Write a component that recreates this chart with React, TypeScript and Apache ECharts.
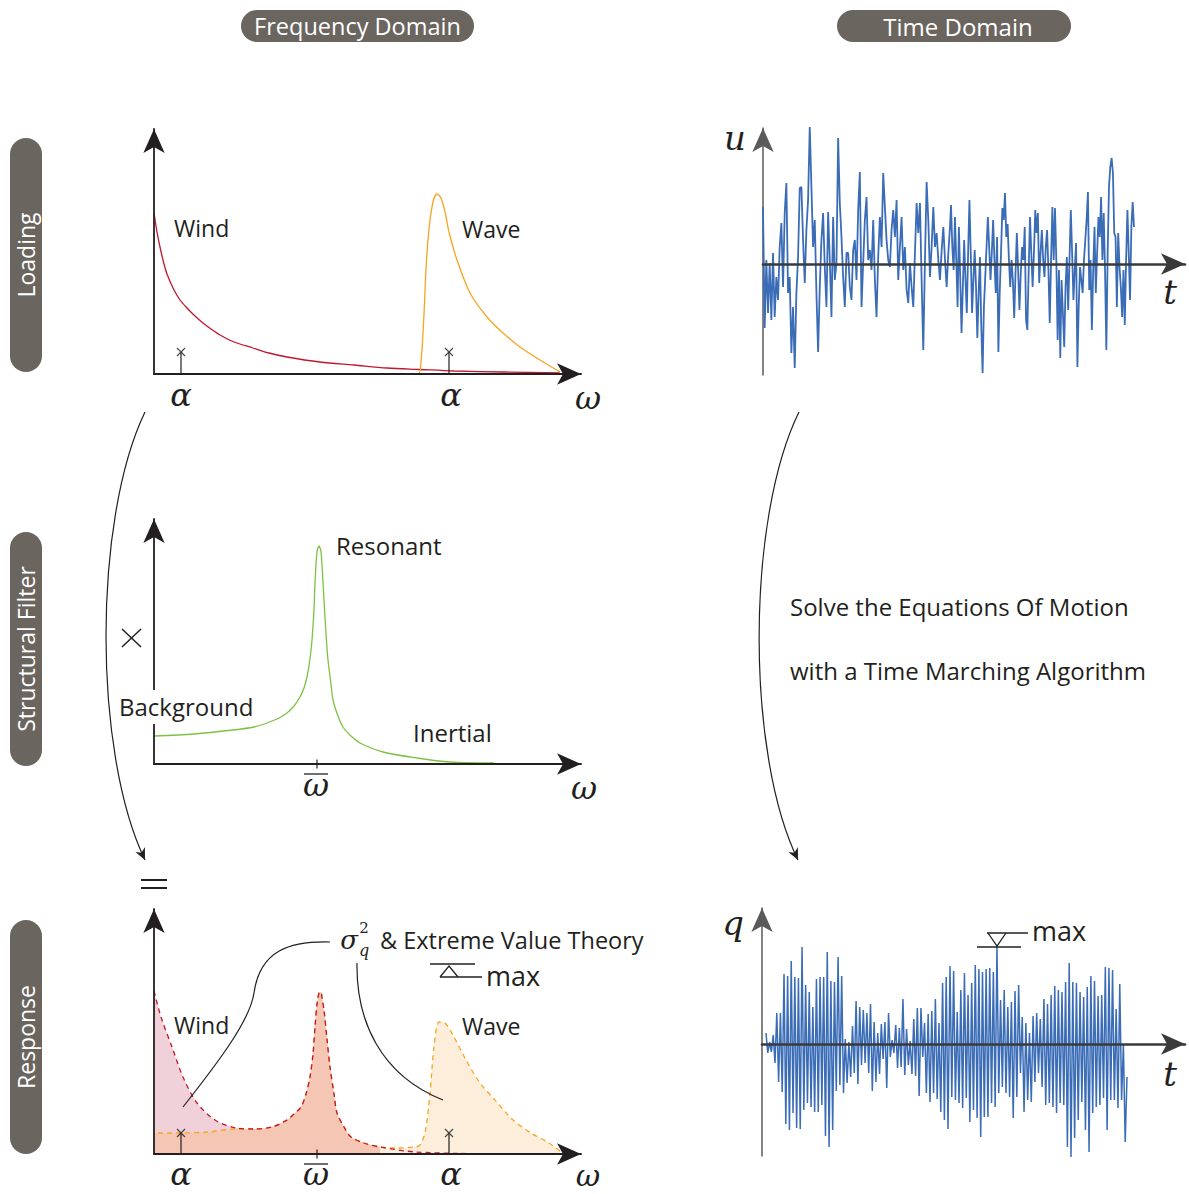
import React, { useEffect, useRef } from "react";
import * as echarts from "echarts";

// ---------- Frequency-domain curves ([omega, spectral density], arbitrary units) ----------
const windLoading: number[][] = [
  [0.0, 1.61], [0.03, 1.42], [0.06, 1.27], [0.1, 1.1], [0.13, 1.0], [0.19, 0.86], [0.26, 0.74],
  [0.33, 0.66], [0.41, 0.58], [0.49, 0.51], [0.57, 0.45], [0.66, 0.39], [0.8, 0.32], [0.99, 0.26],
  [1.15, 0.21], [1.33, 0.17], [1.66, 0.12], [2.0, 0.09], [2.33, 0.06], [2.66, 0.045], [3.0, 0.03],
  [3.5, 0.02], [4.06, 0.01],
];
const waveLoading: number[][] = [
  [2.16, 0.0], [2.64, 0.0], [2.67, 0.12], [2.7, 0.6], [2.72, 1.05], [2.75, 1.45], [2.79, 1.72],
  [2.83, 1.8], [2.87, 1.76], [2.91, 1.62], [2.95, 1.42], [3.03, 1.14], [3.16, 0.81], [3.33, 0.57],
  [3.49, 0.41], [3.66, 0.27], [3.86, 0.14], [4.06, 0.02],
];
const structuralFilter: number[][] = [
  [0, 0.28], [0.4, 0.3], [0.79, 0.34], [1.0, 0.37], [1.13, 0.41], [1.25, 0.46], [1.33, 0.51],
  [1.4, 0.58], [1.46, 0.67], [1.5, 0.76], [1.53, 0.87], [1.56, 1.05], [1.58, 1.24], [1.6, 1.55],
  [1.61, 1.81], [1.63, 2.12], [1.65, 2.18], [1.67, 2.12], [1.69, 1.82], [1.7, 1.64], [1.72, 1.3],
  [1.74, 1.04], [1.77, 0.8], [1.79, 0.64], [1.84, 0.48], [1.89, 0.37], [1.97, 0.28], [2.06, 0.21],
  [2.29, 0.12], [2.63, 0.06], [2.96, 0.02], [3.4, 0.01],
];
const responseWindHead: number[][] = [
  [0, 1.63], [0.07, 1.37], [0.18, 1.07], [0.29, 0.77], [0.43, 0.51], [0.61, 0.34], [0.82, 0.26],
];
const responseBackground: number[][] = [
  [0, 0.21], [0.27, 0.21], [0.54, 0.22], [0.82, 0.25],
];
const responseResonant: number[][] = [
  [1.0, 0.25], [1.18, 0.27], [1.33, 0.34], [1.4, 0.4], [1.47, 0.47], [1.52, 0.6], [1.56, 0.77],
  [1.59, 1.0], [1.61, 1.27], [1.63, 1.5], [1.65, 1.61], [1.67, 1.62], [1.68, 1.56], [1.7, 1.44],
  [1.73, 1.15], [1.76, 0.87], [1.8, 0.6], [1.83, 0.41], [1.9, 0.27], [1.97, 0.17], [2.1, 0.11],
  [2.26, 0.07],
];
const responseWindTail: number[][] = [[2.62, 0.02], [3.41, 0.0]];
const responseWave: number[][] = [
  [2.45, 0.06], [2.6, 0.07], [2.65, 0.08], [2.71, 0.21], [2.76, 0.61], [2.8, 1.07], [2.85, 1.32],
  [2.91, 1.31], [3.0, 1.17], [3.12, 0.94], [3.26, 0.71], [3.41, 0.54], [3.59, 0.34], [3.77, 0.21],
  [3.95, 0.11], [4.07, 0.02],
];
const alphaPositions = [0.27, 2.95];
const omegaBar = 1.63;
const loadTickHeight = 0.22;
const responseTickHeight = 0.21;

// ---------- Time-domain signals (sampled values) ----------
const uSegA = [
  0.57, -0.64, 0.04, -0.49, 0.01, -0.56, 0.11, -0.53, -0.13, -0.36,
  0.17, 0.41, -0.23, 0.51, 0.81, -0.29, -0.13, -0.89, -0.43, -1.04,
  -0.29, 0.07, 0.76, 0.77, 0.24, -0.19, 0.34, 0.64, 1.37, 0.77,
  0.17, 0.44, -0.29, -0.88, -0.23, 0.24, 0.51, -0.03, -0.43, 0.52,
  0.04, -0.53, 0.47, -0.16, 0.01, 1.26, 0.61, 0.27, -0.13, -0.43,
  0.11, 0.11, -0.23, -0.36, 0.14, 0.24, -0.16, 0.54, 0.92, -0.43,
  0.01, 0.44, 0.67, 0.04, 0.14, -0.06, 0.44, -0.16, -0.53, 0.07,
  0.47, 0.17, 0.91, 0.57, 0.24, 0.04, -0.03, 0.34, 0.54, 0.27,
  0.64, -0.16, 0.17, 0.47, -0.06, 0.17, -0.26, -0.39, 0.01, -0.23,
  -0.43, 0.11, 0.61, 0.31, 0.61, -0.16, -0.86, 0.04, 0.82, 0.44,
  -0.13, 0.17, 0.57, 0.17, 0.31, 0.04, -0.16, 0.14, 0.37, 0.04,
  -0.23, 0.11, 0.37,
];
const uSegB = [
  0.59, 0.17, -0.06, 0.47, 0.04, -0.43, 0.37, -0.13, -0.69, -0.23,
  0.24, -0.16, -0.49, 0.11, 0.64, 0.11, -0.49, -0.16, 0.14, -0.23,
  -0.74, -0.29, 0.07, -0.63, -1.09, -0.43, -0.13, 0.17, 0.47, 0.17,
  -0.16, 0.11, 0.44, 0.04, -0.29, 0.27, -0.88, -0.29, 0.11, 0.56,
  0.44, 0.71, 0.27, 0.4, 0.04, -0.23, 0.04, -0.16, -0.54, -0.09,
  0.31, -0.06, -0.46, -0.09, 0.17, 0.04, 0.37, -0.56, -0.66, -0.06,
  0.47, 0.11, -0.23, 0.11, 0.54, 0.31, 0.51, -0.19, 0.11, 0.34,
  0.04, -0.13, 0.17, 0.34, -0.06, -0.59, 0.04, 0.57, 0.04, 0.56,
  0.04, -0.76, -0.06, -0.94, -0.16, -0.49, -0.83, -0.23, 0.07, -0.46,
  0.04, 0.54, 0.11, -0.36, -0.06, 0.21, -1.03, -0.43, -0.03, -0.16,
  -0.29, 0.04, 0.24, 0.44, 0.72, -0.26, 0.04, -0.66, -0.06, 0.37,
  -0.29, 0.11, 0.47, 0.27, 0.67, 0.04, 0.51, -0.06, -0.86, 0.11,
  0.77, 0.97, 1.06, 0.91, 0.31, 0.27, -0.43, 0.31, -0.03, -0.23,
  -0.53, -0.06, -0.61, 0.04, 0.54, 0.11, -0.36, 0.37, 0.62, 0.37,
];
const uSegTimes = [[0.0, 1.87], [1.88, 3.71]];

const qSegA = [
  0.11, -0.09, 0.02, -0.08, 0.09, -0.19, 0.31, -0.38, 0.31, -0.48,
  0.7, -0.8, 0.68, -0.86, 0.83, -0.69, 0.67, -0.84, 0.66, -0.85,
  0.97, -0.66, 0.59, -0.59, 0.52, -0.63, 0.37, -0.68, 0.65, -0.68,
  0.67, -0.61, 0.67, -0.92, 0.92, -1.03, 0.63, -0.86, 0.62, -0.47,
  0.87, -0.41, 0.68, -0.49, 0.05, -0.39, 0.02, -0.33, 0.18, -0.29,
  0.43, -0.4, 0.37, -0.21, 0.34, -0.19, 0.31, -0.29, 0.4, -0.47,
  0.22, -0.38, 0.11, -0.3, 0.2, -0.15, 0.22, -0.44, 0.31, -0.13,
  0.04, -0.09, 0.19, -0.24, 0.16, -0.23, 0.45, -0.31, 0.15, -0.21,
  0.03, -0.3, 0.25, -0.32, 0.36, -0.52, 0.36, -0.13, 0.21, -0.49,
  0.3, -0.58, 0.33, -0.49, 0.45, -0.55, 0.21, -0.68, 0.61, -0.76,
  0.67, -0.85,
];
const qSegB = [
  0.78, -0.53, 0.73, -0.56, 0.32, -0.59, 0.54, -0.64, 0.71, -0.54,
  0.49, -0.78, 0.61, -0.66, 0.79, -0.74, 0.75, -0.93, 0.72, -0.73,
  0.75, -0.73, 0.76, -0.59, 0.72, -0.63, 0.97, -0.49, 0.44, -0.43,
  0.54, -0.49, 0.37, -0.53, 0.42, -0.74, 0.53, -0.53, 0.59, -0.29,
  0.27, -0.68, 0.21, -0.56, 0.11, -0.58, 0.28, -0.38, 0.31, -0.29,
  0.25, -0.43, 0.45, -0.61, 0.4, -0.59, 0.49, -0.63, 0.58, -0.69,
  0.54, -0.59, 0.52, -0.61, 0.62, -1.03, 0.81, -1.13, 0.62, -0.94,
  0.61, -0.76, 0.52, -0.58, 0.47, -0.86, 0.57, -1.08, 0.68, -0.69,
  0.63, -0.63, 0.48, -0.61, 0.49, -0.54, 0.77, -0.86, 0.76, -0.56,
  0.74, -0.56, 0.35, -0.64, 0.6, -0.56, 0.0, -0.98, -0.33,
];
const qSegTimes = [[0.04, 1.86], [1.88, 3.65]];

// ---------- styling ----------
const INK = "#231f20";
const RED = "#c1172c";
const ORANGE = "#f8a420";
const GREEN = "#7dc242";
const BLUE = "#3b6db7";
const PILL = "#6b6560";
const SANS = "'Open Sans', 'Noto Sans', sans-serif";
const MATH = "'DejaVu Serif', serif";

function sampled(segs: number[][], times: number[][]) {
  const out: number[][] = [];
  segs.forEach((vals, s) => {
    const [t0, t1] = times[s];
    const dt = (t1 - t0) / (vals.length - 1);
    vals.forEach((v, i) => out.push([t0 + i * dt, v]));
  });
  return out;
}

function axis(gridIndex: number, min: number, max: number, color: string, width: number, z = 5) {
  return {
    type: "value", gridIndex, min, max, z,
    axisLine: { show: true, onZero: true, symbol: ["none", "arrow"], symbolSize: [16, 24], lineStyle: { color, width } },
    axisTick: { show: false }, axisLabel: { show: false }, splitLine: { show: false },
  };
}

function line(gi: number, data: number[][], color: string, extra: any = {}) {
  return {
    type: "line", xAxisIndex: gi, yAxisIndex: gi, data, showSymbol: false, symbol: "none",
    smooth: 0.3, clip: false, silent: true,
    lineStyle: { color, width: 1.3 }, ...extra,
  };
}

function alphaTicks(gi: number, h: number) {
  const out: any[] = [];
  alphaPositions.forEach((a) => {
    out.push({ type: "line", xAxisIndex: gi, yAxisIndex: gi, data: [[a, 0], [a, h]], showSymbol: false, symbol: "none", clip: false, silent: true, lineStyle: { color: INK, width: 1.2 }, z: 6 });
    out.push({
      type: "scatter", xAxisIndex: gi, yAxisIndex: gi, data: [[a, h]], symbol: "path://M0,0L10,10M10,0L0,10", symbolSize: 8, silent: true, z: 6,
      itemStyle: { color: "transparent", borderColor: INK, borderWidth: 1.2 },
    });
  });
  return out;
}

function omegaBarTick(gi: number) {
  return { type: "line", xAxisIndex: gi, yAxisIndex: gi, data: [[omegaBar, -0.045], [omegaBar, 0.045]], showSymbol: false, symbol: "none", clip: false, silent: true, lineStyle: { color: INK, width: 1.2 }, z: 6 };
}

const txt = (text: string, x: number, y: number, size: number, align = "left", font = SANS, fill = INK, italic = false, extra: any = {}) => ({
  type: "text", x, y, silent: true, z: 20, ...extra,
  style: {
    text, fill, font: `${italic ? "italic " : ""}${size}px ${font}`,
    align, verticalAlign: "middle", textAlign: align, textVerticalAlign: "middle",
  },
});
const seg = (x1: number, y1: number, x2: number, y2: number, w = 1.3) => ({
  type: "line", silent: true, z: 20, shape: { x1, y1, x2, y2 }, style: { stroke: INK, lineWidth: w },
});
const pill = (x: number, y: number, w: number, h: number) => ({
  type: "rect", silent: true, z: 10, shape: { x, y, width: w, height: h, r: 16 }, style: { fill: PILL },
});
const curve = (x1: number, y1: number, cpx1: number, cpy1: number, cpx2: number, cpy2: number, x2: number, y2: number) => ({
  type: "bezierCurve", silent: true, z: 20, shape: { x1, y1, cpx1, cpy1, cpx2, cpy2, x2, y2 }, style: { stroke: INK, lineWidth: 1.2, fill: "none" },
});
const arrowHead = (pts: number[][]) => ({ type: "polygon", silent: true, z: 20, shape: { points: pts }, style: { fill: INK } });

export default function App() {
  const ref = useRef<HTMLDivElement>(null);
  useEffect(() => {
    document.body.style.margin = "0";
    const chart = echarts.init(ref.current!, null, { renderer: "svg" });

    const redTotal = responseWindHead.concat(responseResonant, responseWindTail);
    const orangeTotal = responseBackground.concat(responseResonant, responseWave);
    const salmonArea = responseBackground.concat(responseResonant);
    const peachArea = [responseResonant[responseResonant.length - 1]].concat(responseWave);

    const FX = 4.27, FY = 2.45;
    const option: any = {
      animation: false,
      grid: [
        { left: 154, top: 129, width: 427, height: 245 },
        { left: 154, top: 519, width: 427, height: 245 },
        { left: 154, top: 909, width: 427, height: 245 },
        { left: 763, top: 128, width: 422, height: 247 },
        { left: 762, top: 908, width: 423, height: 248 },
      ],
      xAxis: [
        axis(0, 0, FX, INK, 1.8), axis(1, 0, FX, INK, 1.8), axis(2, 0, FX, INK, 1.8),
        axis(3, 0, 4.22, "#3a3a3a", 2.6), axis(4, 0, 4.23, "#3a3a3a", 2.6),
      ],
      yAxis: [
        axis(0, 0, FY, INK, 1.8), axis(1, 0, FY, INK, 1.8), axis(2, 0, FY, INK, 1.8),
        axis(3, -1.11, 1.36, "#5a5a5a", 1.5, 1), axis(4, -1.12, 1.36, "#5a5a5a", 1.5, 1),
      ],
      series: [
        // Loading
        line(0, windLoading, RED),
        line(0, waveLoading, ORANGE),
        ...alphaTicks(0, loadTickHeight),
        // Structural filter
        line(1, structuralFilter, GREEN),
        omegaBarTick(1),
        // Response: fills
        line(2, redTotal, RED, { lineStyle: { width: 0, opacity: 0 }, areaStyle: { color: "#f0d1d9", opacity: 1 } }),
        line(2, salmonArea, ORANGE, { lineStyle: { width: 0, opacity: 0 }, areaStyle: { color: "#f4c6b3", opacity: 1 } }),
        line(2, peachArea, ORANGE, { lineStyle: { width: 0, opacity: 0 }, areaStyle: { color: "#fdeedb", opacity: 1 } }),
        // Response: dashed lines
        line(2, orangeTotal, ORANGE, { lineStyle: { color: ORANGE, width: 1.3, type: [5, 4], dashOffset: 4.5 } }),
        line(2, redTotal, RED, { lineStyle: { color: RED, width: 1.3, type: [5, 4] } }),
        ...alphaTicks(2, responseTickHeight),
        omegaBarTick(2),
        // Time domain
        line(3, sampled([uSegA, uSegB], uSegTimes), BLUE, { smooth: false, lineStyle: { color: BLUE, width: 1.8 } }),
        line(4, sampled([qSegA, qSegB], qSegTimes), BLUE, { smooth: false, lineStyle: { color: BLUE, width: 1.5 } }),
      ],
      graphic: [
        // header pills
        pill(241, 10, 233, 32), txt("Frequency Domain", 357.5, 26, 23.5, "center", SANS, "#ffffff"),
        pill(837, 10, 234, 32), txt("Time Domain", 958, 26, 24, "center", SANS, "#ffffff"),
        pill(10, 138, 32, 234), txt("Loading", 26, 255, 23, "center", SANS, "#ffffff", false, { rotation: Math.PI / 2 }),
        pill(10, 532, 32, 234), txt("Structural Filter", 26, 649, 23, "center", SANS, "#ffffff", false, { rotation: Math.PI / 2 }),
        pill(10, 920, 32, 234), txt("Response", 26, 1037, 23, "center", SANS, "#ffffff", false, { rotation: Math.PI / 2 }),
        // gap in the filter's y-axis behind the "Background" label
        { type: "rect", silent: true, z: 15, shape: { x: 150, y: 690, width: 8, height: 34 }, style: { fill: "#ffffff" } },
        // labels
        txt("Wind", 174, 228, 23), txt("Wave", 462, 229, 23),
        txt("Resonant", 336, 545, 24), txt("Background", 119, 706, 24), txt("Inertial", 413, 732, 24),
        txt("Wind", 174, 1025, 23), txt("Wave", 462, 1026, 23),
        txt("Solve the Equations Of Motion", 790, 606, 24),
        txt("with a Time Marching Algorithm", 790, 670, 24),
        txt("& Extreme Value Theory", 380, 940, 23.5),
        // math symbols
        txt("α", 181, 395, 32, "center", MATH, INK, true), txt("α", 451, 395, 32, "center", MATH, INK, true),
        txt("ω", 588, 398, 32, "center", MATH, INK, true),
        txt("ω", 316, 785, 32, "center", MATH, INK, true), seg(304, 774, 328, 774, 1.3),
        txt("ω", 584, 788, 32, "center", MATH, INK, true),
        txt("α", 181, 1174, 32, "center", MATH, INK, true), txt("α", 451, 1174, 32, "center", MATH, INK, true),
        txt("ω", 316, 1174, 32, "center", MATH, INK, true), seg(304, 1164, 328, 1164, 1.3),
        txt("ω", 588, 1175, 30, "center", MATH, INK, true),
        txt("u", 735, 138, 34, "center", MATH, INK, true), txt("t", 1170, 292, 34, "center", MATH, INK, true),
        txt("q", 733, 923, 34, "center", MATH, INK, true), txt("t", 1170, 1074, 34, "center", MATH, INK, true),
        txt("σ", 349, 940, 26, "center", MATH, INK, true),
        txt("2", 364, 928, 15, "center", MATH, INK, false),
        txt("q", 364, 950, 16, "center", MATH, INK, true),
        // × and =
        seg(122, 629, 141, 647, 1.5), seg(122, 647, 141, 629, 1.5),
        seg(141, 880, 167, 880, 2), seg(141, 888, 167, 888, 2),
        // max marker (frequency)
        seg(430, 964, 475, 964), seg(440, 977, 482, 977),
        { type: "polyline", silent: true, z: 20, shape: { points: [[440, 977], [449, 966], [458, 977]] }, style: { stroke: INK, lineWidth: 1.3, fill: "none" } },
        txt("max", 486, 975, 27),
        // max marker (time)
        seg(987, 933, 1028, 933), seg(977, 947, 1021, 947),
        { type: "polyline", silent: true, z: 20, shape: { points: [[988, 933], [997, 946], [1006, 933]] }, style: { stroke: INK, lineWidth: 1.3, fill: "none" } },
        txt("max", 1032, 930, 27),
        // annotation leaders
        curve(330, 942, 290, 941, 260, 950, 254, 993),
        curve(254, 993, 250, 1020, 220, 1060, 183, 1107),
        curve(357, 963, 356, 1020, 380, 1075, 443, 1100),
        // flow arrows
        curve(145, 412, 93, 520, 93, 752, 145, 860),
        arrowHead([[145, 860], [144.9, 847], [141.5, 852.8], [135.4, 852]]),
        curve(799, 412, 746, 520, 746, 754, 798, 860),
        arrowHead([[798, 860], [797.9, 847], [794.5, 852.8], [788.4, 852]]),
      ],
    };
    chart.setOption(option);
    return () => chart.dispose();
  }, []);
  return <div ref={ref} style={{ width: 1189, height: 1194 }} />;
}
